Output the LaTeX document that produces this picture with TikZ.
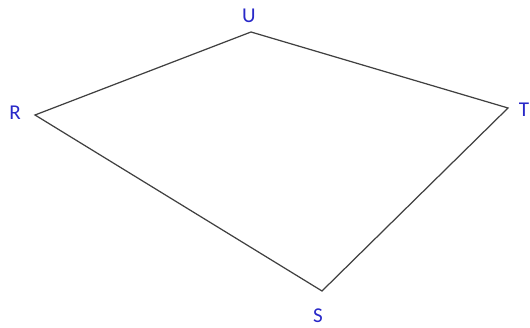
\documentclass[tikz,border=0pt]{standalone}
\usepackage{fontspec}
\setmainfont{Carlito}
\usetikzlibrary{positioning}
\definecolor{ptblue}{RGB}{40,40,200}
\begin{document}
\begin{tikzpicture}[
    vlabel/.style={text=ptblue, font=\fontsize{12}{14}\selectfont, inner sep=1pt},
    edge/.style={draw=black!75, line width=0.7pt, line join=miter}
]
\useasboundingbox (0,0) rectangle (10.6,6.56);
% Vertices
\coordinate (R) at (0.70,4.26);
\coordinate (U) at (5.02,5.92);
\coordinate (T) at (10.16,4.40);
\coordinate (S) at (6.44,0.74);

% Labels
\node[vlabel] (lR) at (0.30,4.30) {R};
\node[vlabel] (lU) at (4.98,6.24) {U};
\node[vlabel] (lT) at (10.48,4.36) {T};
\node[vlabel] (lS) at (6.36,0.24) {S};

\draw[edge] (R) -- (U) -- (T) -- (S) -- cycle;
\end{tikzpicture}
\end{document}
